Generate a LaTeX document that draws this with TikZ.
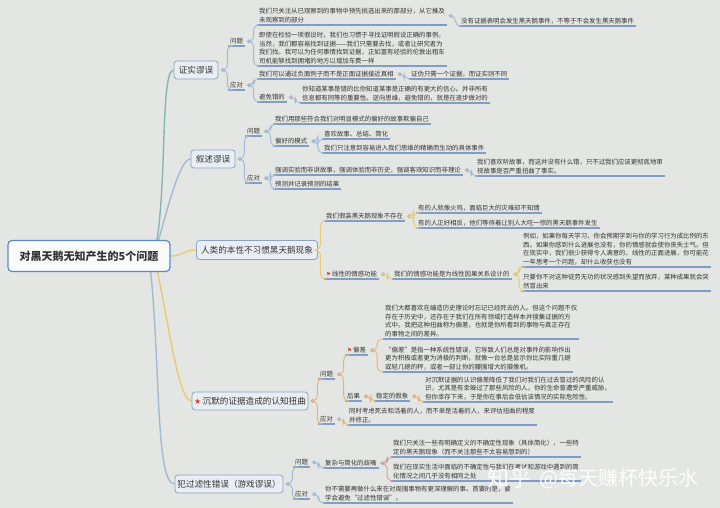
\documentclass[tikz,border=0pt]{standalone}
\usepackage{fontspec}
\setmainfont{Noto Sans CJK SC}
\newfontfamily\symf{DejaVu Sans}
\definecolor{bg}{HTML}{E4E6E3}
\definecolor{txt}{HTML}{333333}
\definecolor{ulc}{HTML}{7F9DC7}
\definecolor{blc}{HTML}{A3BAD6}
\definecolor{ylc}{HTML}{E6CB72}
\definecolor{orc}{HTML}{E8B57C}
\definecolor{tlc}{HTML}{86B5B2}
\definecolor{pkc}{HTML}{D99A9A}
\definecolor{knc}{HTML}{98A6B6}
\definecolor{boxf}{HTML}{E9EEF4}
\definecolor{boxd}{HTML}{8DA3C0}
\definecolor{rootd}{HTML}{5F88BE}
\definecolor{flagc}{HTML}{D83A3A}
\newcommand{\lf}{\fontsize{6.4}{8.7}\selectfont}
\newcommand{\flagic}{{\color{flagc}\symf\fontsize{5.5}{6}\selectfont ⚑}\,}
\pgfdeclarelayer{back}
\pgfdeclarelayer{lines}
\pgfsetlayers{back,lines,main}
\tikzset{
 uline/.style={draw=ulc, line width=1.2pt},
 leaf/.style={font=\lf, text=txt, align=left, anchor=south west, inner xsep=2pt, inner ysep=1.6pt,
   append after command={(\tikzlastnode.south west) edge[uline] (\tikzlastnode.south east)}},
 kn/.style={circle, draw=knc, fill=bg, line width=0.5pt, inner sep=0pt, minimum size=3.4pt},
 branch/.style={draw=boxd, fill=boxf, rounded corners=3pt, line width=0.8pt,
   font=\fontsize{8.6}{10}\selectfont, text=txt, inner xsep=2pt, inner ysep=0pt, minimum height=18pt},
 cb/.style={draw=blc, line width=0.9pt, rounded corners=5pt},
 cy/.style={draw=ylc, line width=0.9pt, rounded corners=5pt},
 co/.style={draw=orc, line width=0.9pt, rounded corners=5pt},
 cp/.style={draw=pkc, line width=0.9pt, rounded corners=5pt},
 rl/.style={line width=1.4pt},
 wm/.style={text=white, opacity=0.92},
}
\begin{document}
\begin{tikzpicture}[x=1pt,y=-1pt]
\begin{pgfonlayer}{back}
\fill[bg] (0,0) rectangle (720,508);
\end{pgfonlayer}
\useasboundingbox (0,0) rectangle (720,508);

% root
\node[draw=rootd, fill=white!70!boxf, rounded corners=4pt, line width=1.2pt, minimum width=162pt,
  minimum height=31pt, font=\fontsize{11}{13}\selectfont\bfseries, text=txt] (root) at (89,256) {对黑天鹅无知产生的5个问题};

% ---------- branch 1
\node[branch, minimum width=44pt] (b1) at (196,70) {证实谬误};
\node[kn] (kb1) at ([xshift=4.5pt]b1.east) {};
\node[leaf] (q1) at (228,46) {问题};
\node[kn] (kq1) at ([xshift=4pt]q1.east) {};
\node[leaf] (l11) at (257,25) {我们只关注从已观察到的事物中预先挑选出来的那部分，从它推及\\未观察到的部分};
\node[kn] (kl11) at ([xshift=4pt]l11.east) {};
\node[leaf] (l111) at (459,26) {没有证据表明会发生黑天鹅事件，不等于不会发生黑天鹅事件};
\node[leaf] (l12) at (257,66) {即使在检验一项假设时，我们也习惯于寻找证明假设正确的事例。\\当然，我们都容易找到证据——我们只需要去找，或者让研究者为\\我们找。我可以为任何事情找到证据，正如富有经验的伦敦出租车\\司机能够找到拥堵的地方以增加车费一样};
\node[leaf] (q2) at (228,90) {应对};
\node[kn] (kq2) at ([xshift=4pt]q2.east) {};
\node[leaf] (l13) at (257,79) {我们可以通过负面例子而不是正面证据接近真相};
\node[kn] (kl13) at ([xshift=4pt]l13.east) {};
\node[leaf] (l131) at (409,79) {证伪只需一个证据，而证实则不同};
\node[leaf] (l14) at (257,102) {避免错的};
\node[kn] (kl14) at ([xshift=4pt]l14.east) {};
\node[leaf] (l141) at (300,103) {你知道某事是错的比你知道某事是正确的有更大的信心。并非所有\\信息都有同等的重要性。逆向思维，避免错的，就是在逐步做对的};
\draw[cb] (kb1.east) -- ++(2.5,0) |- (q1.south west);
\draw[cb] (kb1.east) -- ++(2.5,0) |- (q2.south west);
\draw[cb] (kq1.east) -- ++(2.5,0) |- (l11.south west);
\draw[cb] (kq1.east) -- ++(2.5,0) |- (l12.south west);
\draw[cb] (kl11.east) -- ++(2.5,0) |- (l111.south west);
\draw[cb] (kq2.east) -- ++(2.5,0) |- (l13.south west);
\draw[cb] (kq2.east) -- ++(2.5,0) |- (l14.south west);
\draw[cb] (kl13.east) -- ++(2.5,0) |- (l131.south west);
\draw[cb] (kl14.east) -- ++(2.5,0) |- (l141.south west);

% ---------- branch 2
\node[branch, minimum width=44pt] (b2) at (213,159) {叙述谬误};
\node[kn] (kb2) at ([xshift=4.5pt]b2.east) {};
\node[leaf] (q3) at (245,136) {问题};
\node[kn] (kq3) at ([xshift=4pt]q3.east) {};
\node[leaf] (l21) at (273,124) {我们用那些符合我们对明显模式的偏好的故事欺骗自己};
\node[leaf] (l22) at (273,146) {偏好的模式};
\node[kn] (kl22) at ([xshift=4pt]l22.east) {};
\node[leaf] (l221) at (322,139) {喜欢故事、总结、简化};
\node[leaf] (l222) at (322,153) {我们只注意到容易进入我们思维的精确而生动的具体事件};
\node[leaf] (q4) at (245,183) {应对};
\node[kn] (kq4) at ([xshift=4pt]q4.east) {};
\node[leaf] (l23) at (273,175) {强调实验而非讲故事，强调体验而非历史，强调客观知识而非理论};
\node[kn] (kl23) at ([xshift=4pt]l23.east) {};
\node[leaf] (l231) at (475,176) {我们喜欢听故事，而这并没有什么错，只不过我们应该更彻底地审\\视故事是否严重扭曲了事实。};
\node[leaf] (l24) at (273,189) {预测并记录预测的结果};
\draw[cb] (kb2.east) -- ++(2.5,0) |- (q3.south west);
\draw[cb] (kb2.east) -- ++(2.5,0) |- (q4.south west);
\draw[cb] (kq3.east) -- ++(2.5,0) |- (l21.south west);
\draw[cb] (kq3.east) -- ++(2.5,0) |- (l22.south west);
\draw[cb] (kl22.east) -- ++(2.5,0) |- (l221.south west);
\draw[cb] (kl22.east) -- ++(2.5,0) |- (l222.south west);
\draw[cb] (kq4.east) -- ++(2.5,0) |- (l23.south west);
\draw[cb] (kq4.east) -- ++(2.5,0) |- (l24.south west);
\draw[cb] (kl23.east) -- ++(2.5,0) |- (l231.south west);

% ---------- branch 3
\node[branch, minimum width=121pt, minimum height=19pt] (b3) at (257,250) {人类的本性不习惯黑天鹅现象};
\node[leaf] (l31) at (324,221) {我们假装黑天鹅现象不存在};
\node[kn] (kl31) at ([xshift=4pt]l31.east) {};
\node[leaf] (l311) at (416,213) {有的人就像火鸡，面临巨大的灾难却不知情};
\node[leaf] (l312) at (416,228) {有的人正好相反，他们等待着让别人大吃一惊的黑天鹅事件发生};
\node[leaf] (l32) at (324,279) {\flagic 线性的情感功能};
\node[kn] (kl32) at ([xshift=4pt]l32.east) {};
\node[leaf] (l321) at (392,279) {我们的情感功能是为线性因果关系设计的};
\node[kn] (kl321) at ([xshift=4pt]l321.east) {};
\node[leaf] (l3211) at (521,267) {例如，如果你每天学习，你会预期学到与你的学习行为成比例的东\\西。如果你感到什么进展也没有，你的情感就会使你丧失士气。但\\在现实中，我们很少获得令人满意的、线性的正面进展，你可能花\\一年思考一个问题，却什么收获也没有};
\node[leaf] (l3212) at (521,291) {只要你不对这种徒劳无功的状况感到失望而放弃，某种成果就会突\\然冒出来};
\draw[cy] (b3.east) -- ++(2.5,0) |- (l31.south west);
\draw[cy] (b3.east) -- ++(2.5,0) |- (l32.south west);
\draw[cy] (kl31.east) -- ++(2.5,0) |- (l311.south west);
\draw[cy] (kl31.east) -- ++(2.5,0) |- (l312.south west);
\draw[cy] (kl32.east) -- ++(2.5,0) |- (l321.south west);
\draw[cy] (kl321.east) -- ++(1.5,0) |- (l3211.south west);
\draw[cy] (kl321.east) -- ++(1.5,0) |- (l3212.south west);

% ---------- branch 4
\node[branch, minimum width=116pt] (b4) at (250,401) {{\color{flagc}\symf\fontsize{8}{8}\selectfont ★}\,沉默的证据造成的认知扭曲};
\node[kn] (kb4) at ([xshift=4.5pt]b4.east) {};
\node[leaf] (q5) at (318,379) {问题};
\node[kn] (kq5) at ([xshift=4pt]q5.east) {};
\node[leaf] (l41) at (345,355) {\flagic 偏差};
\node[kn] (kl41) at ([xshift=4pt]l41.east) {};
\node[leaf] (l411) at (383,339) {我们大都喜欢在编造历史理论时忘记已经死去的人。但这个问题不仅\\存在于历史中，还存在于我们在所有领域打造样本并搜集证据的方\\式中。我把这种扭曲称为偏差，也就是你所看到的事物与真正存在\\的事物之间的差异。};
\node[leaf] (l412) at (383,372) {“偏差”是指一种系统性错误，它导致人们总是对事件的影响作出\\更为积极或者更为消极的判断，就像一台总是显示你比实际重几磅\\或轻几磅的秤，或者一部让你的腰围增大的摄像机。};
\node[leaf] (l42) at (345,401) {后果};
\node[kn] (kl42) at ([xshift=4pt]l42.east) {};
\node[leaf] (l421) at (374,401) {稳定的假象};
\node[kn] (kl421) at ([xshift=4pt]l421.east) {};
\node[leaf] (l4211) at (423,402) {对沉默证据的认识偏差降低了我们对我们在过去冒过的风险的认\\识，尤其是有幸躲过了那些风险的人。你的生命曾遭受严重威胁，\\但你幸存下来，于是你在事后会低估该情况的实际危险性。};
\node[leaf] (q6) at (318,424) {应对};
\node[kn] (kq6) at ([xshift=4pt]q6.east) {};
\node[leaf] (l43) at (347,425) {同时考虑死去和活着的人，而不单是活着的人，来评估扭曲的程度\\并修正。};
\draw[co] (kb4.east) -- ++(2.5,0) |- (q5.south west);
\draw[co] (kb4.east) -- ++(2.5,0) |- (q6.south west);
\draw[co] (kq5.east) -- ++(2.5,0) |- (l41.south west);
\draw[co] (kq5.east) -- ++(2.5,0) |- (l42.south west);
\draw[co] (kl41.east) -- ++(3,0) |- (l411.south west);
\draw[co] (kl41.east) -- ++(3,0) |- (l412.south west);
\draw[co] (kl42.east) -- ++(2.5,0) |- (l421.south west);
\draw[co] (kl421.east) -- ++(2.5,0) |- (l4211.south west);
\draw[co] (kq6.east) -- ++(2.5,0) |- (l43.south west);

% ---------- branch 5
\node[branch, minimum width=108pt] (b5) at (229,484) {犯过滤性错误（游戏谬误）};
\node[kn] (kb5) at ([xshift=4.5pt]b5.east) {};
\node[leaf] (q7) at (293,467) {问题};
\node[kn] (kq7) at ([xshift=4pt]q7.east) {};
\node[leaf] (l51) at (323,468) {复杂与简化的歧嘴};
\node[kn] (kl51) at ([xshift=4pt]l51.east) {};
\node[leaf] (l511) at (391,457) {我们只关注一些有明确定义的不确定性现象（具体简化），一些特\\定的黑天鹅现象（而不关注那些不太容易想到的）};
\node[leaf] (l512) at (391,481) {我们在现实生活中面临的不确定性与我们在考试和游戏中遇到的简\\化情况之间几乎没有相同之处};
\node[leaf] (q8) at (293,499) {应对};
\node[kn] (kq8) at ([xshift=4pt]q8.east) {};
\node[leaf] (l52) at (323,503) {你不需要再做什么来在对周围事物有更深理解的事。首要的是，要\\学会避免“过滤性错误”。};
\draw[cb] (kb5.east) -- ++(2.5,0) |- (q7.south west);
\draw[cb] (kb5.east) -- ++(2.5,0) |- (q8.south west);
\draw[cb] (kq7.east) -- ++(2.5,0) |- (l51.south west);
\draw[cp] (kl51.east) -- ++(2.5,0) |- (l511.south west);
\draw[cp] (kl51.east) -- ++(2.5,0) |- (l512.south west);
\draw[cb] (kq8.east) -- ++(2.5,0) |- (l52.south west);

% ---------- root connectors
\begin{pgfonlayer}{lines}
\draw[rl, draw=tlc] ([xshift=65pt]root.center) .. controls +(14,-60) and +(-14,0) .. (b1.west);
\draw[rl, draw=blc] ([xshift=65pt]root.center) .. controls +(12,-40) and +(-12,0) .. (b2.west);
\draw[rl, draw=ylc] (root.east) .. controls +(12,0) and +(-12,0) .. (b3.west);
\draw[rl, draw=ylc] ([xshift=65pt]root.center) .. controls +(14,60) and +(-14,0) .. (b4.west);
\draw[rl, draw=blc] ([xshift=60pt]root.center) .. controls +(12,100) and +(-20,0) .. (b5.west);
\end{pgfonlayer}

% ---------- watermark
\node[wm, font=\fontsize{22}{22}\selectfont] (wm1) at (509,478) {知乎};
\node[wm, font=\fontsize{20}{20}\selectfont, anchor=west] (wm2) at (536,479) {@每天赚杯快乐水};
\end{tikzpicture}
\end{document}
